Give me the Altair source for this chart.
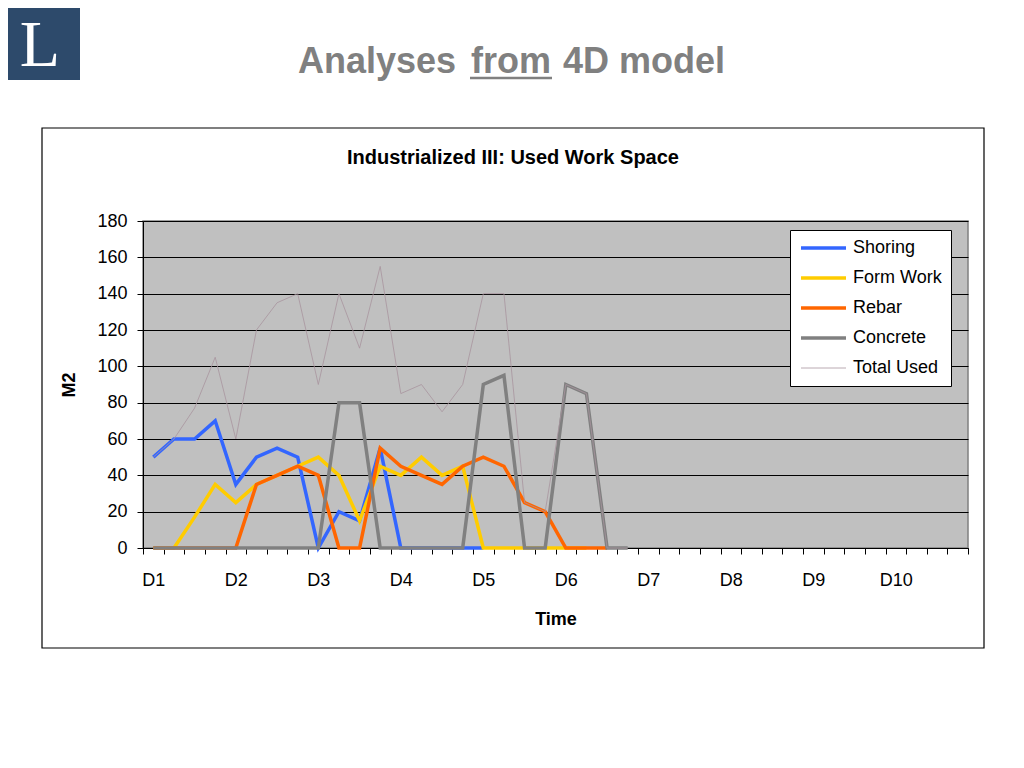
import json
import altair as alt
import pandas as pd

# ---------------- data ----------------
day_labels = ["D1", "D2", "D3", "D4", "D5", "D6", "D7", "D8", "D9", "D10"]
slots_per_day = 4
n_slots = 40

series_names = ["Shoring", "Form Work", "Rebar", "Concrete", "Total Used"]
series_colors = ["#3366ff", "#ffcc00", "#ff6600", "#808080", "#a8949e"]
series_widths = [3.5, 3.5, 3.5, 3.5, 0.8]

shoring = [50, 60, 60, 70, 35, 50, 55, 50, 0, 20, 15, 55, 0, 0, 0, 0, 0]
form_work = [0, 0, 17, 35, 25, 35, 40, 45, 50, 40, 15, 45, 40, 50, 40, 45, 0, 0, 0, 0, 0, 0]
rebar = [0, 0, 0, 0, 0, 35, 40, 45, 40, 0, 0, 55, 45, 40, 35, 45, 50, 45, 25, 20, 0, 0, 0]
concrete = [0, 0, 0, 0, 0, 0, 0, 0, 0, 80, 80, 0, 0, 0, 0, 0, 90, 95, 0, 0, 90, 85, 0, 0]
total_used = [50, 60, 77, 105, 60, 120, 135, 140, 90, 140, 110, 155, 85, 90, 75, 90,
              140, 140, 25, 20, 90, 85, 0, 0]

y_ticks = [0, 20, 40, 60, 80, 100, 120, 140, 160, 180]

rows = []
for name, vals in zip(series_names, [shoring, form_work, rebar, concrete, total_used]):
    for i, v in enumerate(vals):
        rows.append({"slot": i, "value": v, "series": name})
df = pd.DataFrame(rows)

W, H = 825, 327
FONT = "Liberation Sans"

label_expr = (
    f"datum.value % {slots_per_day} == 0 ? "
    f"{json.dumps(day_labels)}[datum.value / {slots_per_day}] : ''"
)

color_scale = alt.Scale(domain=series_names, range=series_colors)
width_scale = alt.Scale(type="ordinal", domain=series_names, range=series_widths)

x_enc = alt.X(
    "slot:O",
    scale=alt.Scale(type="band", domain=list(range(n_slots)), paddingInner=0, paddingOuter=0),
    axis=alt.Axis(
        title="Time", labelExpr=label_expr, labelAngle=0, tickBand="extent",
        tickSize=6, tickColor="black", domainColor="black", labelPadding=17,
        labelFontSize=18, titleFontSize=18, titleFontWeight="bold", titlePadding=21,
        grid=False, labelColor="black", titleColor="black",
    ),
)
y_enc = alt.Y(
    "value:Q",
    scale=alt.Scale(domain=[0, 180], nice=False),
    axis=alt.Axis(
        title="M2", values=y_ticks, tickSize=6, tickColor="black", domainColor="black",
        labelPadding=10, labelFontSize=18, labelColor="black",
        grid=True, gridColor="black", gridWidth=1.2,
        titleFontSize=18, titleFontWeight="bold", titleColor="black",
        titleX=-65, titleY=H / 2, titleAngle=-90, titleBaseline="bottom", titleAlign="center",
    ),
)

legend = alt.Legend(
    title=None, orient="none", legendX=647, legendY=9,
    fillColor="white", strokeColor="black", padding=9,
    symbolType="stroke", symbolSize=2025, labelFontSize=18, labelOffset=5,
    rowPadding=12, clipHeight=18, labelColor="black",
)

lines = []
for name in series_names:
    lines.append(
        alt.Chart(df)
        .transform_filter(alt.datum.series == name)
        .mark_line(strokeJoin="miter")
        .encode(
            x=x_enc,
            y=y_enc,
            color=alt.Color("series:N", scale=color_scale, legend=legend),
            strokeWidth=alt.StrokeWidth("series:N", scale=width_scale, legend=legend),
        )
    )

one = pd.DataFrame({"a": [0]})

frame = alt.Chart(one).mark_rect(fillOpacity=0, stroke="black", strokeWidth=1.2).encode(
    x=alt.value(-101), x2=alt.value(841), y=alt.value(-93), y2=alt.value(427)
)
logo_box = alt.Chart(one).mark_rect(fill="#2d4a6b").encode(
    x=alt.value(-135), x2=alt.value(-63), y=alt.value(-213), y2=alt.value(-141)
)
logo_l = alt.Chart(one).mark_text(
    text="L", font="Liberation Serif", fontSize=66, color="white", align="center", baseline="alphabetic"
).encode(x=alt.value(-103), y=alt.value(-155))

title_kw = dict(font=FONT, fontSize=36, fontWeight="bold", color="#808080", baseline="alphabetic")
t1 = alt.Chart(one).mark_text(text="Analyses", align="right", **title_kw).encode(
    x=alt.value(313), y=alt.value(-148))
t2 = alt.Chart(one).mark_text(text="from", align="center", **title_kw).encode(
    x=alt.value(368), y=alt.value(-148))
t3 = alt.Chart(one).mark_text(text="4D model", align="left", **title_kw).encode(
    x=alt.value(420), y=alt.value(-148))
underline = alt.Chart(one).mark_rule(color="#808080", strokeWidth=2.5).encode(
    x=alt.value(327), x2=alt.value(409), y=alt.value(-143))

chart_title = alt.Chart(one).mark_text(
    text="Industrialized III: Used Work Space", font=FONT, fontSize=20, fontWeight="bold",
    color="black", align="center", baseline="alphabetic",
).encode(x=alt.value(370), y=alt.value(-57))

chart = (
    alt.layer(frame, logo_box, logo_l, t1, t2, t3, underline, chart_title, *lines)
    .properties(
        width=W, height=H,
        autosize=alt.AutoSizeParams(type="none"),
        padding={"left": 135, "top": 213, "right": 48, "bottom": 220},
        background="white",
    )
    .configure(font=FONT)
    .configure_view(fill="#c0c0c0", stroke="#808080", strokeWidth=1.5)
)

chart.save("out.html", embed_options={"renderer": "svg", "actions": False})
